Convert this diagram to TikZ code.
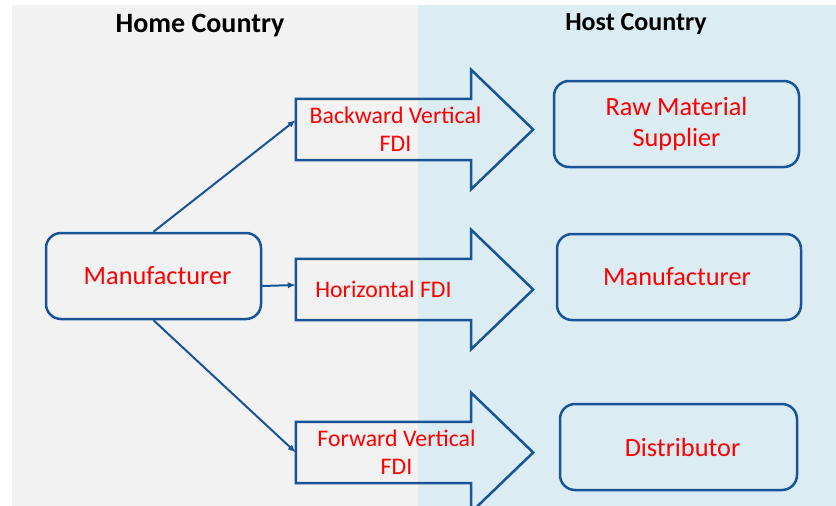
\documentclass[tikz,border=0pt]{standalone}
\usepackage{fontspec}
\setmainfont{Carlito}
\usepackage{xcolor}
\usetikzlibrary{arrows.meta,positioning,calc}

\definecolor{homebg}{RGB}{242,242,242}
\definecolor{hostbg}{RGB}{219,236,243}
\definecolor{lineblue}{RGB}{24,84,150}

\begin{document}
\begin{tikzpicture}[
  x=1pt, y=-1pt,
  title/.style={font=\fontsize{28}{30}\selectfont\bfseries, text=black},
  firm/.style={draw=lineblue, line width=2.5pt, rounded corners=15pt, minimum height=86pt, inner sep=0pt, align=center, text=red, font=\fontsize{26.3}{31}\selectfont},
  armbody/.style={minimum width=175pt, minimum height=61pt, inner sep=0pt},
  armlab/.style={text=red, align=center, font=\fontsize{23.8}{28}\selectfont},
  fdiarrow/.style={draw=lineblue, line width=2.5pt, line join=miter},
  link/.style={draw=lineblue, line width=2pt, -{Latex[length=8pt,width=6.5pt]}}
]
\useasboundingbox (0,0) rectangle (836,506);

% two country panels
\fill[homebg] (12,5) rectangle (418,506);
\fill[hostbg] (418,5) rectangle (836,506);

\node[title] (home) at (200,26) {Home Country};
\node[title, font=\fontsize{26}{30}\selectfont\bfseries] (host) at (636,24) {Host Country};

% firms
\node[firm, minimum width=215pt] (mfr) at (153.5,276) {\hspace*{8pt}Manufacturer};
\node[firm, minimum width=245pt] (raw) at (676.5,124) {Raw Material\\Supplier};
\node[firm, minimum width=244pt] (hmfr) at (679,277) {Manufacturer\hspace*{4pt}};
\node[firm, minimum width=237pt] (dist) at (678.5,447) {\hspace*{8pt}Distributor};

% FDI arrows: body first, then the head drawn from its corners
\node[armbody] (bwd) at (383.5,129.5) {};
\node[armbody] (hor) at (383.5,289.5) {};
\node[armbody] (fwd) at (383.5,452.5) {};

\foreach \a in {bwd,hor,fwd}
  \draw[fdiarrow] (\a.north west) -- (\a.north east) -- ++(0,-29)
    -- ($(\a.east)+(62,0)$) -- ($(\a.south east)+(0,29)$)
    -- (\a.south east) -- (\a.south west) -- cycle;

\node[armlab, xshift=12pt] (bwdtxt) at (bwd) {Backward Vertical\\FDI};
\node[armlab] (hortxt) at (hor) {Horizontal FDI};
\node[armlab, xshift=13pt] (fwdtxt) at (fwd) {Forward Vertical\\FDI};

% links from the home manufacturer
\draw[link] (mfr.north) -- ([yshift=9.5pt]bwd.west);
\draw[link] ([yshift=-10pt]mfr.east) -- ([yshift=4.5pt]hor.west);
\draw[link] (mfr.south) -- (fwd.west);

\end{tikzpicture}
\end{document}
